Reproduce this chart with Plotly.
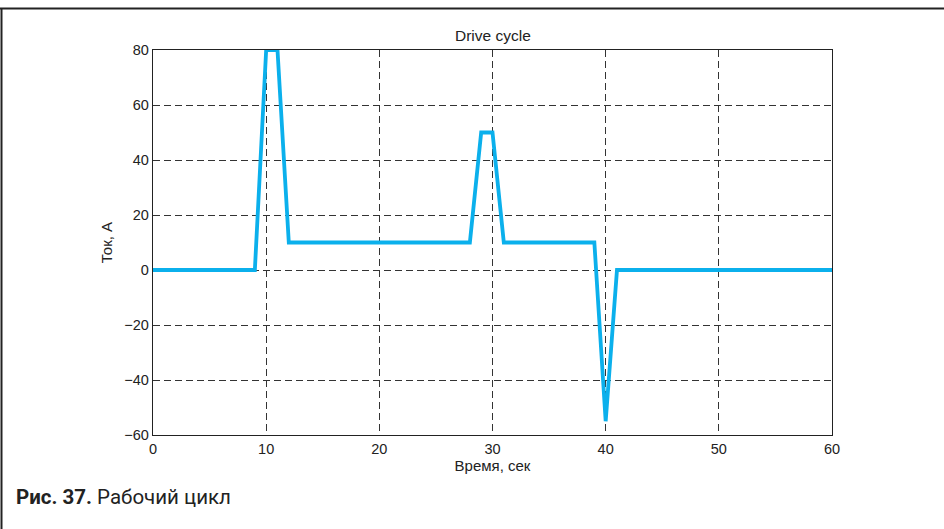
import plotly.graph_objects as go

time_s = [0, 9, 10, 11, 12, 28, 29, 30, 31, 39, 40, 41, 60]
current_a = [0, 0, 80, 80, 10, 10, 50, 50, 10, 10, -55, 0, 0]
x_ticks = [0, 10, 20, 30, 40, 50, 60]
y_ticks = [-60, -40, -20, 0, 20, 40, 60, 80]

W, H = 944, 529
L, R, T, B = 153, 112, 50, 94
pw, ph = W - L - R, H - T - B

def px(x):
    return (x - L) / pw

def py(y):
    return (H - B - y) / ph

FONT = "Liberation Sans, Arial"
fig = go.Figure()
fig.add_trace(go.Scatter(x=time_s, y=current_a, mode="lines",
                         line=dict(color="#0BB0EC", width=3.8), showlegend=False,
                         cliponaxis=False))

axis_common = dict(showline=True, linecolor="#222", linewidth=1.3, mirror=True,
                   showgrid=True, gridcolor="#333", griddash="7px,4px", gridwidth=1,
                   zeroline=False, ticks="", tickfont=dict(family=FONT, size=14.5, color="#222"))

fig.update_xaxes(range=[0, 60], tickvals=x_ticks, **axis_common,
                 title=dict(text="Время, сек", font=dict(family=FONT, size=15, color="#222"), standoff=0))
fig.update_yaxes(range=[-60, 80], tickvals=y_ticks, **axis_common,
                 title=dict(text="Ток, А", font=dict(family=FONT, size=15, color="#222"), standoff=8))

fig.update_layout(
    width=W, height=H, margin=dict(l=L, r=R, t=T, b=B, pad=0),
    paper_bgcolor="white", plot_bgcolor="white",
    annotations=[
        dict(text="Drive cycle", xref="paper", yref="paper", x=0.5, y=py(35), showarrow=False,
             font=dict(family=FONT, size=15.5, color="#222"), xanchor="center", yanchor="middle"),
        dict(text="<b>Рис. 37.</b> Рабочий цикл", xref="paper", yref="paper", x=px(14), y=py(497),
             showarrow=False, xanchor="left", yanchor="middle",
             font=dict(family="Roboto", size=20.5, color="#222")),
    ],
    shapes=[
        dict(type="line", xref="paper", yref="paper", x0=px(0), x1=px(W), y0=py(8.5), y1=py(8.5),
             line=dict(color="#222", width=2)),
        dict(type="line", xref="paper", yref="paper", x0=px(1.5), x1=px(1.5), y0=py(8), y1=py(H),
             line=dict(color="#222", width=2)),
    ],
)

fig.write_html("out.html", config={"displayModeBar": False},
               post_script="document.body.style.margin='0';")
